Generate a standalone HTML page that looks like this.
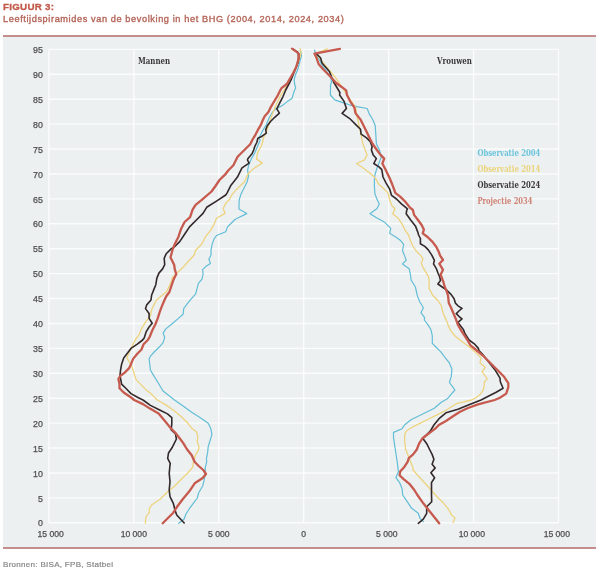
<!DOCTYPE html>
<html><head><meta charset="utf-8"><style>
html,body{margin:0;padding:0;background:#fff;}
body{width:600px;height:571px;position:relative;overflow:hidden;font-family:"Liberation Sans",Arial,sans-serif;}
.t1{position:absolute;left:3px;top:0.6px;font-size:9.8px;font-weight:bold;color:#c35a4a;letter-spacing:0.25px;-webkit-text-stroke:0.3px #c35a4a;line-height:12px;white-space:nowrap;}
.t2{position:absolute;left:3px;top:12.9px;font-size:9.2px;color:#b46457;letter-spacing:0.6px;-webkit-text-stroke:0.35px #b46457;line-height:12px;white-space:nowrap;}
.foot{position:absolute;left:3px;top:559px;font-size:8px;color:#858585;letter-spacing:0.3px;-webkit-text-stroke:0.2px #858585;line-height:12px;white-space:nowrap;}
svg{position:absolute;left:0;top:0;}
</style></head><body>
<div class="t1">FIGUUR 3:</div>
<div class="t2">Leeftijdspiramides van de bevolking in het BHG (2004, 2014, 2024, 2034)</div>
<svg width="600" height="571" viewBox="0 0 600 571">
<rect x="3" y="36" width="593" height="512" fill="#ecf0f1"/>
<line x1="3" y1="36" x2="596" y2="36" stroke="#c48e8e" stroke-width="2"/>
<line x1="3" y1="548" x2="596" y2="548" stroke="#c48e8e" stroke-width="2"/>
<g stroke="#ffffff" stroke-width="1.4" stroke-opacity="0.8">
<line x1="48.9" y1="522.80" x2="558.5" y2="522.80"/>
<line x1="48.9" y1="497.88" x2="558.5" y2="497.88"/>
<line x1="48.9" y1="472.97" x2="558.5" y2="472.97"/>
<line x1="48.9" y1="448.05" x2="558.5" y2="448.05"/>
<line x1="48.9" y1="423.14" x2="558.5" y2="423.14"/>
<line x1="48.9" y1="398.22" x2="558.5" y2="398.22"/>
<line x1="48.9" y1="373.31" x2="558.5" y2="373.31"/>
<line x1="48.9" y1="348.39" x2="558.5" y2="348.39"/>
<line x1="48.9" y1="323.47" x2="558.5" y2="323.47"/>
<line x1="48.9" y1="298.56" x2="558.5" y2="298.56"/>
<line x1="48.9" y1="273.64" x2="558.5" y2="273.64"/>
<line x1="48.9" y1="248.73" x2="558.5" y2="248.73"/>
<line x1="48.9" y1="223.81" x2="558.5" y2="223.81"/>
<line x1="48.9" y1="198.89" x2="558.5" y2="198.89"/>
<line x1="48.9" y1="173.98" x2="558.5" y2="173.98"/>
<line x1="48.9" y1="149.06" x2="558.5" y2="149.06"/>
<line x1="48.9" y1="124.15" x2="558.5" y2="124.15"/>
<line x1="48.9" y1="99.23" x2="558.5" y2="99.23"/>
<line x1="48.9" y1="74.32" x2="558.5" y2="74.32"/>
<line x1="48.9" y1="49.40" x2="558.5" y2="49.40"/>
<line x1="48.90" y1="49.4" x2="48.90" y2="522.8"/>
<line x1="133.83" y1="49.4" x2="133.83" y2="522.8"/>
<line x1="218.77" y1="49.4" x2="218.77" y2="522.8"/>
<line x1="303.70" y1="49.4" x2="303.70" y2="522.8"/>
<line x1="388.63" y1="49.4" x2="388.63" y2="522.8"/>
<line x1="473.57" y1="49.4" x2="473.57" y2="522.8"/>
<line x1="558.50" y1="49.4" x2="558.50" y2="522.8"/>
</g>
<g font-family="Liberation Sans, Arial, sans-serif" font-size="8.8" fill="#4f4f4f" stroke="#4f4f4f" stroke-width="0.25" text-anchor="end">
<text x="42.9" y="526.4">0</text>
<text x="42.9" y="501.5">5</text>
<text x="42.9" y="476.6">10</text>
<text x="42.9" y="451.7">15</text>
<text x="42.9" y="426.7">20</text>
<text x="42.9" y="401.8">25</text>
<text x="42.9" y="376.9">30</text>
<text x="42.9" y="352.0">35</text>
<text x="42.9" y="327.1">40</text>
<text x="42.9" y="302.2">45</text>
<text x="42.9" y="277.2">50</text>
<text x="42.9" y="252.3">55</text>
<text x="42.9" y="227.4">60</text>
<text x="42.9" y="202.5">65</text>
<text x="42.9" y="177.6">70</text>
<text x="42.9" y="152.7">75</text>
<text x="42.9" y="127.7">80</text>
<text x="42.9" y="102.8">85</text>
<text x="42.9" y="77.9">90</text>
<text x="42.9" y="53.0">95</text>
</g>
<g font-family="Liberation Sans, Arial, sans-serif" font-size="8.6" fill="#4f4f4f" stroke="#4f4f4f" stroke-width="0.25" text-anchor="middle">
<text x="50.6" y="537.3">15 000</text>
<text x="133.8" y="537.3">10 000</text>
<text x="218.8" y="537.3">5 000</text>
<text x="303.6" y="537.3">0</text>
<text x="386.8" y="537.3">5 000</text>
<text x="471.8" y="537.3">10 000</text>
<text x="556.8" y="537.3">15 000</text>
</g>
<g font-family="DejaVu Serif Condensed, DejaVu Serif, serif" font-size="8.5" font-weight="bold" fill="#383838" lengthAdjust="spacingAndGlyphs">
<text x="138" y="64.2" textLength="32.2" lengthAdjust="spacingAndGlyphs">Mannen</text>
<text x="437" y="64.2" textLength="34.9" lengthAdjust="spacingAndGlyphs">Vrouwen</text>
</g>
<g font-family="DejaVu Serif Condensed, DejaVu Serif, serif" font-size="8.8" font-weight="bold">
<text x="477.4" y="156" fill="#6cc4dc" textLength="63" lengthAdjust="spacingAndGlyphs">Observatie 2004</text>
<text x="477.4" y="171.6" fill="#ecd47c" textLength="63" lengthAdjust="spacingAndGlyphs">Observatie 2014</text>
<text x="477.4" y="188" fill="#3d3738" textLength="63" lengthAdjust="spacingAndGlyphs">Observatie 2024</text>
<text x="477.4" y="204" fill="#cf8275" textLength="55" lengthAdjust="spacingAndGlyphs">Projectie 2034</text>
</g>
<g fill="none" stroke-linejoin="round" stroke-linecap="round">
<polyline points="300.4,50.4 301.5,55.7 299.4,63.0 297.8,69.3 295.2,75.6 294.1,79.8 294.6,84.0 295.7,88.2 294.6,90.0 292.0,98.4 287.3,101.6 282.0,105.8 275.7,108.9 272.6,112.1 269.4,117.3 266.3,124.7 263.1,129.9 261.0,134.1 258.9,138.3 260.2,140.0 257.6,146.3 254.9,152.6 251.3,158.9 248.6,165.2 247.6,170.5 248.6,175.7 247.1,182.0 243.9,188.3 240.8,194.6 239.2,200.0 238.9,208.9 246.7,213.6 237.3,218.3 235.0,219.5 231.2,223.2 227.5,226.9 225.7,231.8 216.5,235.5 214.0,239.1 212.2,244.0 211.0,250.2 211.0,255.0 208.9,259.2 210.4,263.4 205.7,266.6 202.6,269.7 203.1,273.9 202.0,279.2 198.4,283.4 197.3,287.6 195.7,293.9 191.0,299.1 186.8,304.4 183.7,308.6 183.6,310.0 183.1,314.2 178.4,318.4 172.1,323.7 165.8,328.9 163.1,333.1 164.7,337.3 163.1,342.6 159.5,346.8 154.2,352.0 150.5,356.2 149.1,358.8 149.7,363.7 150.4,370.0 152.5,373.6 157.8,382.3 163.0,391.0 168.5,395.3 174.5,400.0 183.1,406.1 191.7,412.3 201.5,418.4 208.2,423.3 210.7,428.2 211.9,434.3 210.1,440.5 208.2,446.6 207.6,452.7 206.4,458.8 206.7,462.0 205.3,467.3 205.3,474.0 204.0,480.7 202.7,486.0 198.7,492.7 197.3,498.0 193.3,503.3 189.3,508.7 186.0,514.0 184.0,519.3 178.7,523.3" stroke="#62bdd6" stroke-width="1.2"/>
<polyline points="314.5,50.0 316.0,55.0 319.5,60.0 322.0,65.0 326.5,71.0 330.5,77.0 331.5,82.0 330.5,85.0 330.5,88.3 330.4,95.0 334.7,99.9 342.1,102.4 349.4,104.8 356.8,106.6 367.2,108.5 369.0,113.4 372.7,119.5 375.2,125.6 375.8,134.2 376.4,144.0 379.5,150.0 381.2,157.4 379.3,162.3 376.9,168.4 375.0,174.5 374.4,179.4 374.4,186.8 375.0,194.1 376.9,199.0 379.3,203.9 376.9,208.8 374.9,210.0 370.0,213.7 376.1,217.4 384.7,222.3 390.8,228.4 389.6,233.3 395.7,237.0 400.6,240.6 403.7,244.3 402.5,250.5 404.9,256.6 406.2,260.3 402.5,263.9 409.2,268.8 410.5,275.0 411.1,280.0 415.4,287.0 417.3,295.6 419.7,301.7 423.4,307.8 420.9,312.7 424.6,317.6 424.3,320.0 428.0,324.9 431.0,329.8 432.3,335.9 432.3,343.3 435.9,347.0 440.8,351.9 444.5,356.8 449.4,362.9 451.9,369.0 451.3,376.4 449.4,382.5 453.1,387.4 454.9,390.0 451.7,393.6 447.3,398.8 441.3,402.3 434.3,408.2 422.7,414.0 411.0,419.8 404.5,425.0 402.1,428.7 393.5,432.4 393.5,437.3 395.3,449.5 397.2,461.8 398.4,471.6 395.9,477.7 399.6,482.6 402.1,488.7 402.7,495.0 405.0,498.3 411.7,508.3 418.3,513.3 420.0,518.3 423.3,521.7" stroke="#62bdd6" stroke-width="1.2"/>
<polyline points="299.9,48.8 301.0,51.5 300.4,55.7 298.0,63.0 293.5,73.5 288.0,84.0 280.9,95.0 278.5,100.0 276.0,105.0 273.6,111.0 271.5,116.3 269.9,121.5 266.3,132.0 263.1,138.3 263.3,140.0 261.2,146.3 257.6,152.6 256.5,158.9 262.3,163.1 255.5,167.3 250.2,171.5 247.1,175.7 244.4,182.0 239.7,186.2 235.5,190.4 231.3,195.7 229.2,200.0 226.3,202.4 223.2,208.5 225.1,213.4 216.5,218.3 214.0,224.4 210.4,230.6 205.5,236.7 201.8,244.0 195.6,250.2 194.2,255.0 188.4,261.3 184.7,265.5 179.5,270.8 172.6,277.3 170.5,283.6 166.3,292.0 161.0,296.2 156.5,300.0 154.0,304.9 151.6,309.8 150.4,315.9 145.5,322.1 141.8,328.2 139.3,334.3 135.2,340.0 132.1,346.3 129.4,351.6 126.8,357.9 129.4,362.1 132.1,367.3 133.6,371.5 134.7,375.7 136.3,379.9 140.5,384.1 145.7,389.4 152.0,394.6 157.3,400.0 165.9,404.9 174.5,411.0 181.9,417.2 188.0,423.3 191.7,428.2 196.6,431.9 197.8,436.8 197.2,441.7 199.0,446.6 198.4,450.3 195.4,455.2 193.3,462.0 192.7,467.3 188.0,472.7 181.3,479.3 174.7,486.0 166.7,492.7 160.0,499.3 152.0,504.7 149.3,508.7 149.3,512.7 146.0,516.7 145.3,523.3" stroke="#eed37e" stroke-width="1.3"/>
<polyline points="327.3,48.8 315.8,53.6 325.2,65.2 335.7,77.8 344.1,90.4 352.5,103.0 355.6,107.3 356.8,115.8 359.2,125.6 361.1,135.5 362.9,144.0 365.2,150.0 367.1,154.9 364.6,159.8 356.6,163.5 362.2,167.2 368.3,172.1 374.4,177.0 376.9,180.6 378.7,184.3 383.0,188.0 387.9,192.9 388.6,195.0 389.7,200.3 391.8,205.5 394.9,208.7 392.8,213.9 398.1,218.1 402.3,224.4 405.4,230.7 408.6,235.0 410.3,240.3 412.5,245.5 416.0,250.8 420.4,255.1 423.0,258.6 421.3,263.0 423.0,267.4 425.6,271.8 428.3,276.2 429.2,280.5 429.2,285.0 428.9,288.2 430.0,290.0 432.6,295.3 437.9,300.5 441.4,305.8 442.3,310.1 444.0,315.4 446.6,320.6 448.4,325.9 451.0,331.2 454.5,335.5 460.0,340.0 468.4,346.3 475.8,352.6 481.0,357.9 480.0,363.1 485.2,367.3 482.1,371.5 484.2,374.7 487.3,378.9 484.2,382.0 484.2,386.2 483.1,390.4 480.0,394.6 475.8,397.8 471.6,400.0 457.3,403.3 445.0,410.8 435.0,415.8 426.7,420.0 418.3,424.2 411.7,427.5 406.7,430.8 405.0,433.3 404.6,438.3 405.0,445.0 405.7,449.5 408.2,455.6 410.6,461.8 413.1,467.9 413.0,470.0 419.0,476.7 425.0,483.3 431.0,490.0 437.0,496.7 443.7,503.3 449.0,510.0 451.7,515.3 455.0,518.0 453.0,522.7" stroke="#eed37e" stroke-width="1.3"/>
<polyline points="292.5,48.8 298.0,52.5 298.8,57.8 297.8,63.0 295.3,69.3 293.6,73.5 291.5,78.8 289.5,83.0 288.9,84.0 285.7,90.0 283.1,96.3 280.4,101.6 278.3,105.8 276.8,108.9 279.4,113.1 274.7,117.3 270.5,121.5 267.3,125.7 265.7,129.9 266.3,133.1 262.1,136.2 257.9,138.3 256.8,142.5 254.7,146.7 253.7,150.0 252.0,153.8 247.8,158.7 247.5,160.0 249.1,163.2 242.0,167.9 237.3,177.3 231.0,185.2 227.0,193.1 225.7,195.0 216.5,201.1 206.7,207.3 203.0,213.4 196.9,219.5 189.5,226.9 184.6,234.2 179.7,241.6 174.8,246.5 171.1,248.9 166.2,253.8 165.0,256.3 164.2,258.4 164.7,264.7 162.6,268.9 158.9,273.1 156.8,278.4 155.8,284.7 153.7,289.9 151.6,295.2 151.0,300.0 146.7,304.9 145.5,308.6 149.1,313.5 149.1,318.4 152.2,323.3 149.1,327.0 146.1,331.9 144.2,338.0 142.6,340.0 137.3,344.2 131.0,348.4 127.9,352.6 123.7,357.9 121.6,364.2 120.5,370.5 120.0,375.7 121.6,384.1 125.8,388.3 131.0,393.6 138.4,397.8 143.0,400.0 150.4,405.4 160.2,410.3 167.5,413.9 171.8,417.6 171.8,423.7 171.2,430.0 175.5,433.8 176.4,439.0 172.0,447.8 168.5,453.0 167.7,458.3 170.3,463.6 170.0,465.0 169.2,473.3 170.0,481.7 169.2,490.0 170.0,496.7 173.3,503.3 175.0,510.0 176.7,515.0 184.2,523.0" stroke="#33282a" stroke-width="1.6"/>
<polyline points="316.3,53.6 320.5,57.8 322.0,63.0 329.4,71.5 333.6,82.0 339.9,92.5 339.6,95.0 343.9,101.1 346.4,108.5 342.1,113.4 349.4,118.3 356.8,125.6 360.5,129.3 361.1,134.2 366.6,137.9 370.3,141.6 372.1,146.5 371.4,150.0 373.2,154.9 376.3,158.6 373.8,163.5 379.3,167.2 381.8,169.6 383.0,177.0 386.1,183.1 389.7,189.2 391.6,195.4 396.5,199.0 401.4,203.9 407.5,208.8 406.8,210.0 406.2,213.7 410.5,219.8 415.4,225.9 417.8,232.1 418.6,235.0 420.4,238.5 420.4,243.8 424.8,246.4 428.3,249.9 431.8,255.1 434.4,260.4 433.5,263.9 436.2,268.3 437.9,272.7 439.7,277.0 440.5,280.5 437.9,284.0 446.6,290.0 451.0,294.4 454.1,298.8 455.4,303.1 458.0,305.8 462.0,308.4 458.9,311.0 456.3,313.6 458.9,316.3 462.0,318.9 458.0,322.4 460.6,325.9 463.3,329.4 465.0,333.8 469.0,340.0 474.7,344.2 478.4,348.4 478.9,350.5 482.1,353.7 486.3,358.9 490.5,364.2 494.7,369.4 497.3,373.6 499.9,377.8 500.4,382.0 503.1,388.3 495.7,392.5 487.3,396.7 481.0,400.0 469.6,404.4 458.0,409.3 446.0,412.8 439.0,418.7 433.9,425.0 430.3,431.1 422.9,438.5 426.6,443.4 429.6,449.5 432.1,454.4 433.9,459.3 432.1,464.2 435.2,467.9 430.9,472.8 434.6,477.7 431.5,482.6 431.5,488.7 431.5,495.0 431.7,501.7 426.7,506.7 426.7,513.3 423.3,519.2 418.3,523.3" stroke="#33282a" stroke-width="1.6"/>
<polyline points="292.0,48.6 295.5,51.0 299.0,54.0 298.2,60.0 296.2,67.0 293.2,73.0 290.3,78.0 288.0,82.0 286.8,84.0 281.5,88.2 280.4,90.0 277.8,95.3 274.7,100.5 271.5,105.8 269.9,108.9 268.4,112.1 264.7,116.3 262.6,120.5 261.0,124.7 257.9,129.9 255.8,134.1 252.3,140.0 250.2,144.2 243.9,150.5 237.6,156.8 235.5,161.0 233.4,165.2 228.2,170.5 225.0,174.7 219.5,180.0 215.5,186.0 211.5,191.5 201.8,199.9 195.6,204.8 192.6,209.7 190.1,217.1 184.6,222.0 180.9,229.3 178.5,236.7 174.8,244.0 172.4,250.2 170.5,257.5 172.8,262.0 174.2,265.0 174.7,268.9 176.2,274.2 173.6,279.4 171.5,285.7 169.4,292.0 166.3,296.2 164.5,300.0 161.4,307.4 159.6,312.3 157.7,318.4 155.3,324.5 152.2,330.6 149.7,336.8 147.8,340.0 143.6,344.2 141.5,349.5 137.3,353.7 133.1,358.9 131.0,364.2 128.9,368.4 124.7,372.6 120.5,375.7 118.4,378.9 119.5,384.1 119.5,388.3 123.7,392.5 130.0,396.7 134.2,400.0 143.0,404.1 150.0,408.6 158.6,413.5 164.7,420.8 170.8,428.2 175.7,433.1 179.4,438.0 183.1,442.9 186.8,449.0 191.7,455.2 194.7,462.0 198.7,466.0 203.3,470.0 206.0,474.0 202.7,478.0 194.7,483.3 189.3,491.3 182.7,499.3 176.7,507.3 173.3,512.7 168.0,518.0 162.7,523.3" stroke="#c65a4e" stroke-width="2.3"/>
<polyline points="339.9,48.8 314.5,53.7 316.5,57.8 318.6,64.0 323.1,69.3 330.5,76.7 336.2,83.0 342.0,87.2 346.2,90.4 347.0,95.0 350.0,101.1 354.3,107.3 355.6,113.4 360.5,119.5 363.5,125.6 366.6,131.8 369.6,137.9 372.7,144.0 376.9,150.0 380.6,154.9 384.2,158.6 382.4,163.5 385.5,169.6 389.1,177.0 392.2,184.3 394.0,189.2 395.3,192.9 400.2,196.6 405.1,201.5 410.0,207.6 412.9,210.0 414.1,214.9 417.8,219.8 421.5,224.7 423.9,229.6 422.7,233.3 427.6,237.0 432.5,241.9 436.2,246.8 438.7,251.7 440.0,255.4 443.0,260.0 439.3,263.7 443.0,269.8 440.6,274.7 443.0,280.8 444.8,287.0 446.2,290.0 448.0,295.3 448.8,303.1 451.0,307.5 453.2,312.8 455.8,318.9 458.0,325.0 461.5,331.2 465.0,336.4 467.4,340.0 470.5,345.3 476.8,350.5 483.1,355.8 488.4,361.0 493.6,366.3 498.9,371.5 504.1,376.8 508.3,383.1 508.3,387.3 506.2,393.6 499.9,397.8 494.7,400.0 478.0,404.4 468.0,408.0 460.0,411.7 453.0,416.3 446.0,421.0 438.8,425.0 435.2,428.7 430.3,432.4 425.4,436.0 422.3,438.5 419.2,443.4 416.8,449.5 413.1,454.4 408.8,458.1 407.6,461.8 404.5,466.7 400.2,471.6 399.6,475.3 403.3,478.9 409.4,483.8 414.3,490.0 417.4,495.0 423.3,503.3 430.0,511.7 439.2,523.3" stroke="#c65a4e" stroke-width="2.3"/>
</g>
</svg>
<div class="foot">Bronnen: BISA, FPB, Statbel</div>
</body></html>
